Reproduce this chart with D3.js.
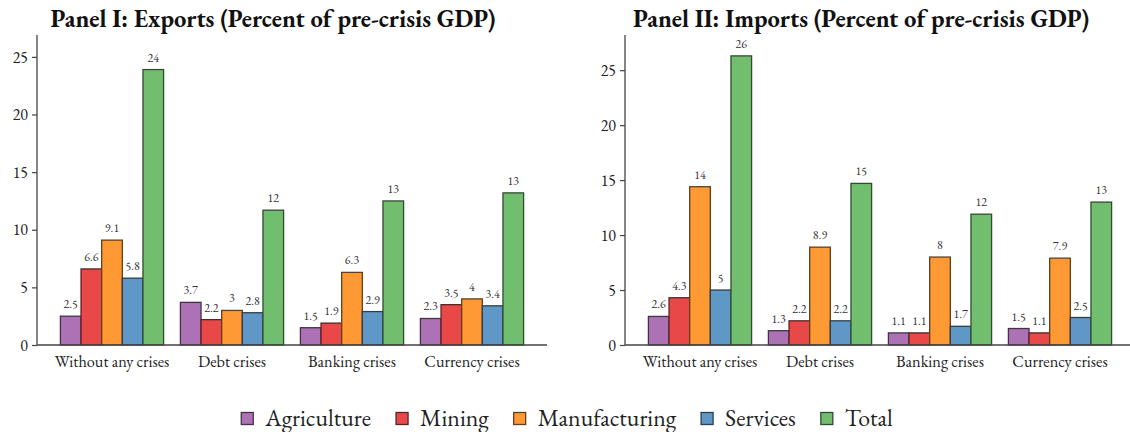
<!DOCTYPE html>
<html>
<head>
<meta charset="utf-8">
<script src="https://cdn.jsdelivr.net/npm/d3@7"></script>
<style>
    body { margin: 0; background: #fff; }
</style>
</head>
<body>
<svg id="chart" width="1130" height="432" font-family="EB Garamond"></svg>
<script>

// categories and series
const categories = ["Without any crises", "Debt crises", "Banking crises", "Currency crises"]
const sectors = ["Agriculture", "Mining", "Manufacturing", "Services", "Total"]
const sectorColors = ["#984ea3", "#e41a1c", "#ff7f00", "#377eb8", "#4daf4a"]

// Panel I: exports
const exportsAgriculture = [2.5, 3.7, 1.5, 2.3]
const exportsMining = [6.6, 2.2, 1.9, 3.5]
const exportsManufacturing = [9.1, 3.0, 6.3, 4.0]
const exportsServices = [5.8, 2.8, 2.9, 3.4]
const exportsTotal = [23.9, 11.7, 12.5, 13.2]

// Panel II: imports
const importsAgriculture = [2.6, 1.3, 1.1, 1.5]
const importsMining = [4.3, 2.2, 1.1, 1.1]
const importsManufacturing = [14.4, 8.9, 8.0, 7.9]
const importsServices = [5.0, 2.2, 1.7, 2.5]
const importsTotal = [26.3, 14.7, 11.9, 13.0]

const yTicks = [0, 5, 10, 15, 20, 25]

const FONT = "EB Garamond"


class CrisisPanel {

    constructor(svg, opts) {
        this.svg = svg
        this.opts = opts

        // left, right, top, bottom of the plot area
        var left = opts.left
        var right = opts.left + 510
        var top = 35
        var bottom = 345

        this.x = d3.scaleBand()
            .domain(categories)
            .range([left, right])
            .paddingInner(0.14)
            .paddingOuter(0.195)

        this.xInner = d3.scaleBand()
            .domain(sectors)
            .range([0, this.x.bandwidth()])

        this.y = d3.scaleLinear()
            .domain([0, opts.yMax])
            .range([bottom, top])

        this.drawTitle()
        this.drawBars()
        this.drawAxes(left, right)
    }

    drawTitle() {
        this.svg.append("text")
            .attr("x", this.opts.titleX)
            .attr("y", 27)
            .attr("text-anchor", "middle")
            .attr("font-family", FONT)
            .attr("font-size", 24.5)
            .attr("font-weight", "bold")
            .attr("fill", "#111")
            .text(this.opts.title)
    }

    drawBars() {
        var x = this.x, xInner = this.xInner, y = this.y
        var rows = []
        this.opts.series.forEach((vals, si) => {
            vals.forEach((v, ci) => {
                rows.push({ cat: categories[ci], sector: sectors[si], value: v, color: fillColor(si), stroke: strokeColor(si) })
            })
        })

        var g = this.svg.append("g")

        g.selectAll("rect")
            .data(rows)
            .enter()
            .append("rect")
            .attr("x", d => x(d.cat) + xInner(d.sector))
            .attr("y", d => y(d.value))
            .attr("width", xInner.bandwidth())
            .attr("height", d => y(0) - y(d.value))
            .attr("fill", d => d.color)
            .attr("stroke", d => d.stroke)
            .attr("stroke-width", 1.3)

        var fmt = d3.format(".2~r")
        g.selectAll("text")
            .data(rows)
            .enter()
            .append("text")
            .attr("x", d => x(d.cat) + xInner(d.sector) + xInner.bandwidth() / 2)
            .attr("y", d => y(d.value) - 8)
            .attr("text-anchor", "middle")
            .attr("font-family", FONT)
            .attr("font-size", 12)
            .attr("fill", "#333")
            .text(d => fmt(d.value))
    }

    drawAxes(left, right) {
        var yAxis = d3.axisLeft(this.y)
            .tickValues(yTicks)
            .tickSize(5)
            .tickPadding(4)

        var ga = this.svg.append("g")
            .attr("transform", `translate(${left},0)`)
            .call(yAxis)
        ga.select(".domain").attr("d", `M0,${this.y.range()[1]}V${this.y(0)}`)
        styleAxis(ga)
        ga.attr("font-size", 16)

        var xAxis = d3.axisBottom(this.x)
            .tickSize(0)
            .tickPadding(10)

        var gx = this.svg.append("g")
            .attr("transform", `translate(0,${this.y(0)})`)
            .call(xAxis)
        gx.select(".domain").attr("d", `M${left},0H${right}`)
        styleAxis(gx)
        gx.attr("font-size", 16.3)
    }
}

function fillColor(i) {
    // set1 at 80% over white
    return d3.interpolateRgb("#ffffff", sectorColors[i])(0.8)
}

function strokeColor(i) {
    return d3.interpolateRgb(sectorColors[i], "#262626")(0.72)
}

function styleAxis(g) {
    g.attr("font-family", FONT)
    g.select(".domain").attr("stroke", "#444").attr("stroke-width", 1.3)
    g.selectAll(".tick line").attr("stroke", "#444").attr("stroke-width", 1.2)
    g.selectAll("text").attr("fill", "#222")
}


const svg = d3.select("#chart")

new CrisisPanel(svg, {
    title: "Panel I: Exports (Percent of pre-crisis GDP)",
    titleX: 273,
    left: 37,
    yMax: 26.9,
    series: [exportsAgriculture, exportsMining, exportsManufacturing, exportsServices, exportsTotal]
})

new CrisisPanel(svg, {
    title: "Panel II: Imports (Percent of pre-crisis GDP)",
    titleX: 861,
    left: 625,
    yMax: 28.2,
    series: [importsAgriculture, importsMining, importsManufacturing, importsServices, importsTotal]
})

// legend along the bottom, centred
var legend = svg.append("g")
var cursor = 0
var itemGap = 25
sectors.forEach((s, i) => {
    var item = legend.append("g")
    item.append("rect")
        .attr("x", 0)
        .attr("y", -6.5)
        .attr("width", 12)
        .attr("height", 12)
        .attr("fill", fillColor(i))
        .attr("stroke", strokeColor(i))
        .attr("stroke-width", 1.3)
    var t = item.append("text")
        .attr("x", 24)
        .attr("y", 7)
        .attr("font-family", FONT)
        .attr("font-size", 23.8)
        .attr("fill", "#222")
        .text(s)
    var w = 24 + t.node().getComputedTextLength()
    item.attr("transform", `translate(${cursor},0)`)
    cursor += w + itemGap
})
var legendWidth = cursor - itemGap
legend.attr("transform", `translate(${567 - legendWidth / 2},419)`)

</script>
</body>
</html>
